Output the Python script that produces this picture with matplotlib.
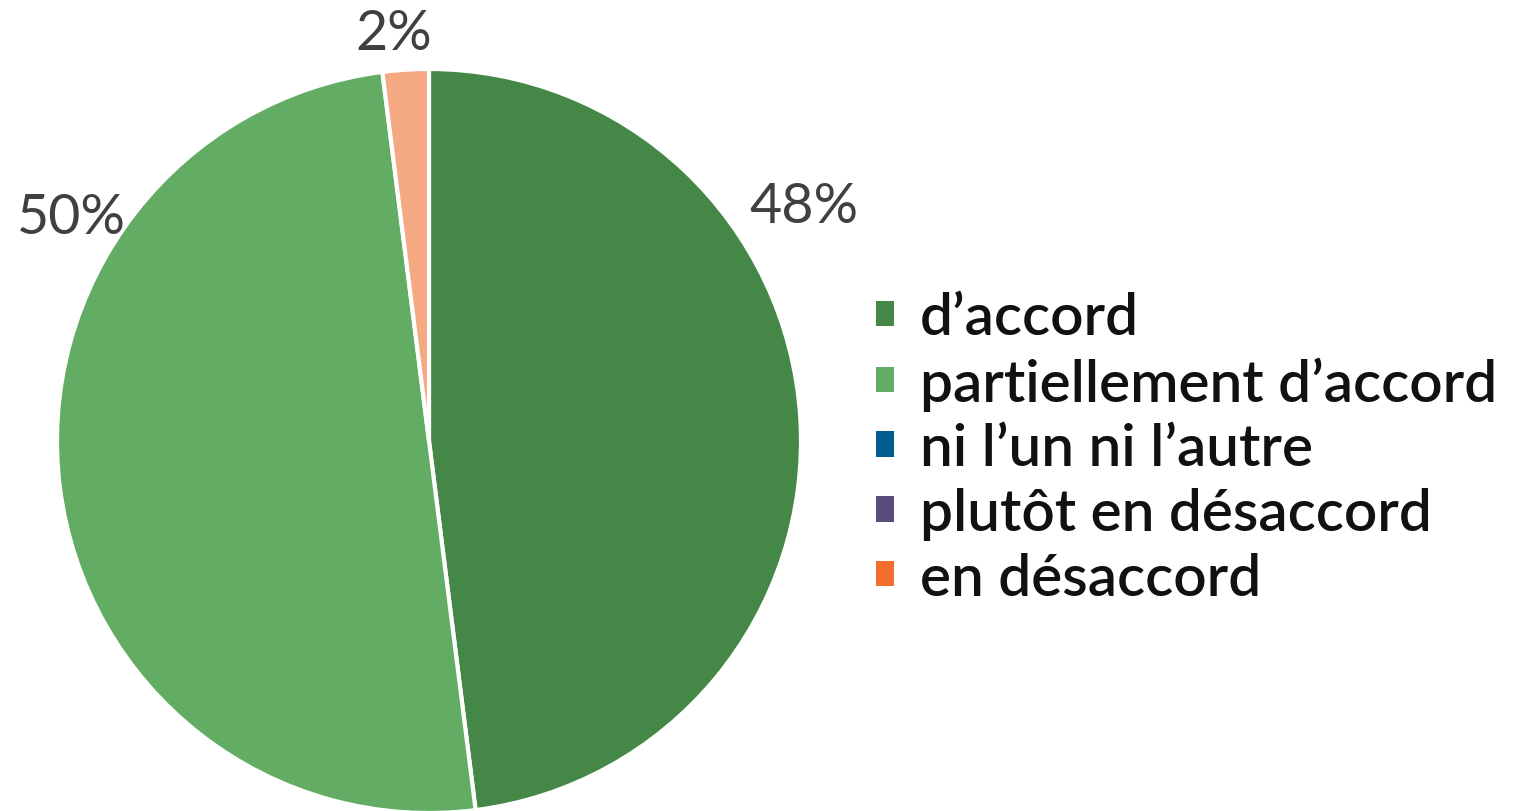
import matplotlib
matplotlib.use("Agg")
import matplotlib.pyplot as plt
from matplotlib.patches import Patch
import numpy as np

# Données
categories = ["d\u2019accord", "partiellement d\u2019accord", "ni l\u2019un ni l\u2019autre",
              "plutôt en désaccord", "en désaccord"]
valeurs = [48, 50, 0, 0, 2]
couleurs_secteurs = ["#458746", "#62AD63", "#005B8F", "#5B4A7C", "#F5A982"]
couleurs_legende = ["#458746", "#62AD63", "#005B8F", "#5B4A7C", "#F26D2E"]
etiquettes = ["48%", "50%", "", "", "2%"]

# position des étiquettes (angle en degrés, distance relative au rayon)
pos_etiquettes = [(32, 1.19), (148, 1.135), None, None, (95, 1.10)]

plt.rcParams['font.family'] = ['Lato', 'DejaVu Sans']

fig = plt.figure(figsize=(15.24, 8.12), dpi=100)
W, H = 1524, 812
cx, cy, r = 429, 442, 372
ax = fig.add_axes([(cx - r) / W, (H - cy - r) / H, 2 * r / W, 2 * r / H])

non_nuls = [i for i, v in enumerate(valeurs) if v > 0]
ax.pie([valeurs[i] for i in non_nuls],
       colors=[couleurs_secteurs[i] for i in non_nuls],
       startangle=90, counterclock=False, radius=1,
       wedgeprops={'edgecolor': 'white', 'linewidth': 3})
ax.set_aspect('auto')
ax.set_xlim(-1, 1)
ax.set_ylim(-1, 1)

for i in non_nuls:
    ang, dist = pos_etiquettes[i]
    a = np.radians(ang)
    ax.text(dist * np.cos(a), dist * np.sin(a), etiquettes[i],
            ha='center', va='center', fontsize=40, color='#404040', clip_on=False)

poignees = [Patch(facecolor=c, edgecolor='none') for c in couleurs_legende]
leg = fig.legend(poignees, categories, loc='center left', bbox_to_anchor=(876 / W, 1 - 449 / H),
                 frameon=False, prop={'size': 42, 'weight': 'semibold'},
                 handlelength=0.3, handleheight=0.3,
                 handletextpad=0.45, labelspacing=0.2, borderaxespad=0, borderpad=0)
for t in leg.get_texts():
    t.set_color('#111111')

plt.savefig('out.png', dpi=100)
